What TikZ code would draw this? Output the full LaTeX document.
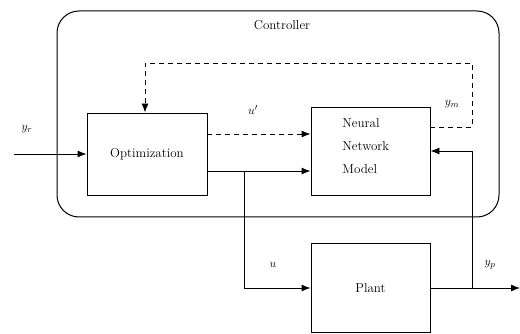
\documentclass[tikz,border=0pt]{standalone}
\usetikzlibrary{arrows.meta}
\begin{document}
\begin{tikzpicture}[x=1pt,y=-1pt,line width=0.9pt,
  blk/.style={draw,rectangle,minimum width=#1,inner sep=0pt},
  arr/.style={-{Latex[length=9pt,width=7pt]}},
  lbl/.style={font=\fontsize{13}{15}\selectfont},
  every node/.style={font=\fontsize{13}{15}\selectfont}]
\useasboundingbox (0,0) rectangle (520,334);
% controller frame
\draw[rounded corners=22pt, line width=1pt] (57,11) rectangle (499,217);
\node (ctl) at (282,25) {Controller};
% blocks
\node[draw,minimum width=120pt,minimum height=82pt,inner sep=0pt] (opt) at (147,154) {Optimization};
\node[draw,minimum width=119pt,minimum height=88pt,inner sep=0pt] (nn) at (370.5,151) {};
\node[align=left,anchor=north west,inner sep=0pt,font=\fontsize{13}{23}\selectfont] (nntxt) at (342,118) {Neural\\Network\\Model};
\node[draw,minimum width=119pt,minimum height=89pt,inner sep=0pt] (plant) at (370.5,288) {Plant};
% coordinates
\coordinate (in) at (14,154);
\coordinate (out) at (520,288);
\coordinate (br1) at (244,171);
\coordinate (br2) at (472,288);
% input
\draw[arr] (in) -- (opt.west);
\node (yr) at (27,129) {$y_r$};
% u'
\draw[arr,dashed,dash pattern=on 5pt off 4pt] (opt.east |- 0,134) -- (nn.west |- 0,134);
\node (up) at (253,110) {$u'$};
% ym feedback
\draw[arr,dashed,dash pattern=on 5pt off 4pt] (nn.east |- 0,127) -- (472,127) -- (472,63) -- (145,63) -- (opt.north -| 145,0);
\node (ym) at (452,104) {$y_m$};
% u
\draw[arr] (opt.east |- br1) -- (nn.west |- br1);
\draw[arr] (br1) -- (244,288) -- (plant.west);
\node (u) at (273,265) {$u$};
% yp
\draw[arr] (plant.east) -- (out);
\draw[arr] (br2) -- (472,151) -- (nn.east |- 0,151);
\node (yp) at (490,265) {$y_p$};
\end{tikzpicture}
\end{document}
